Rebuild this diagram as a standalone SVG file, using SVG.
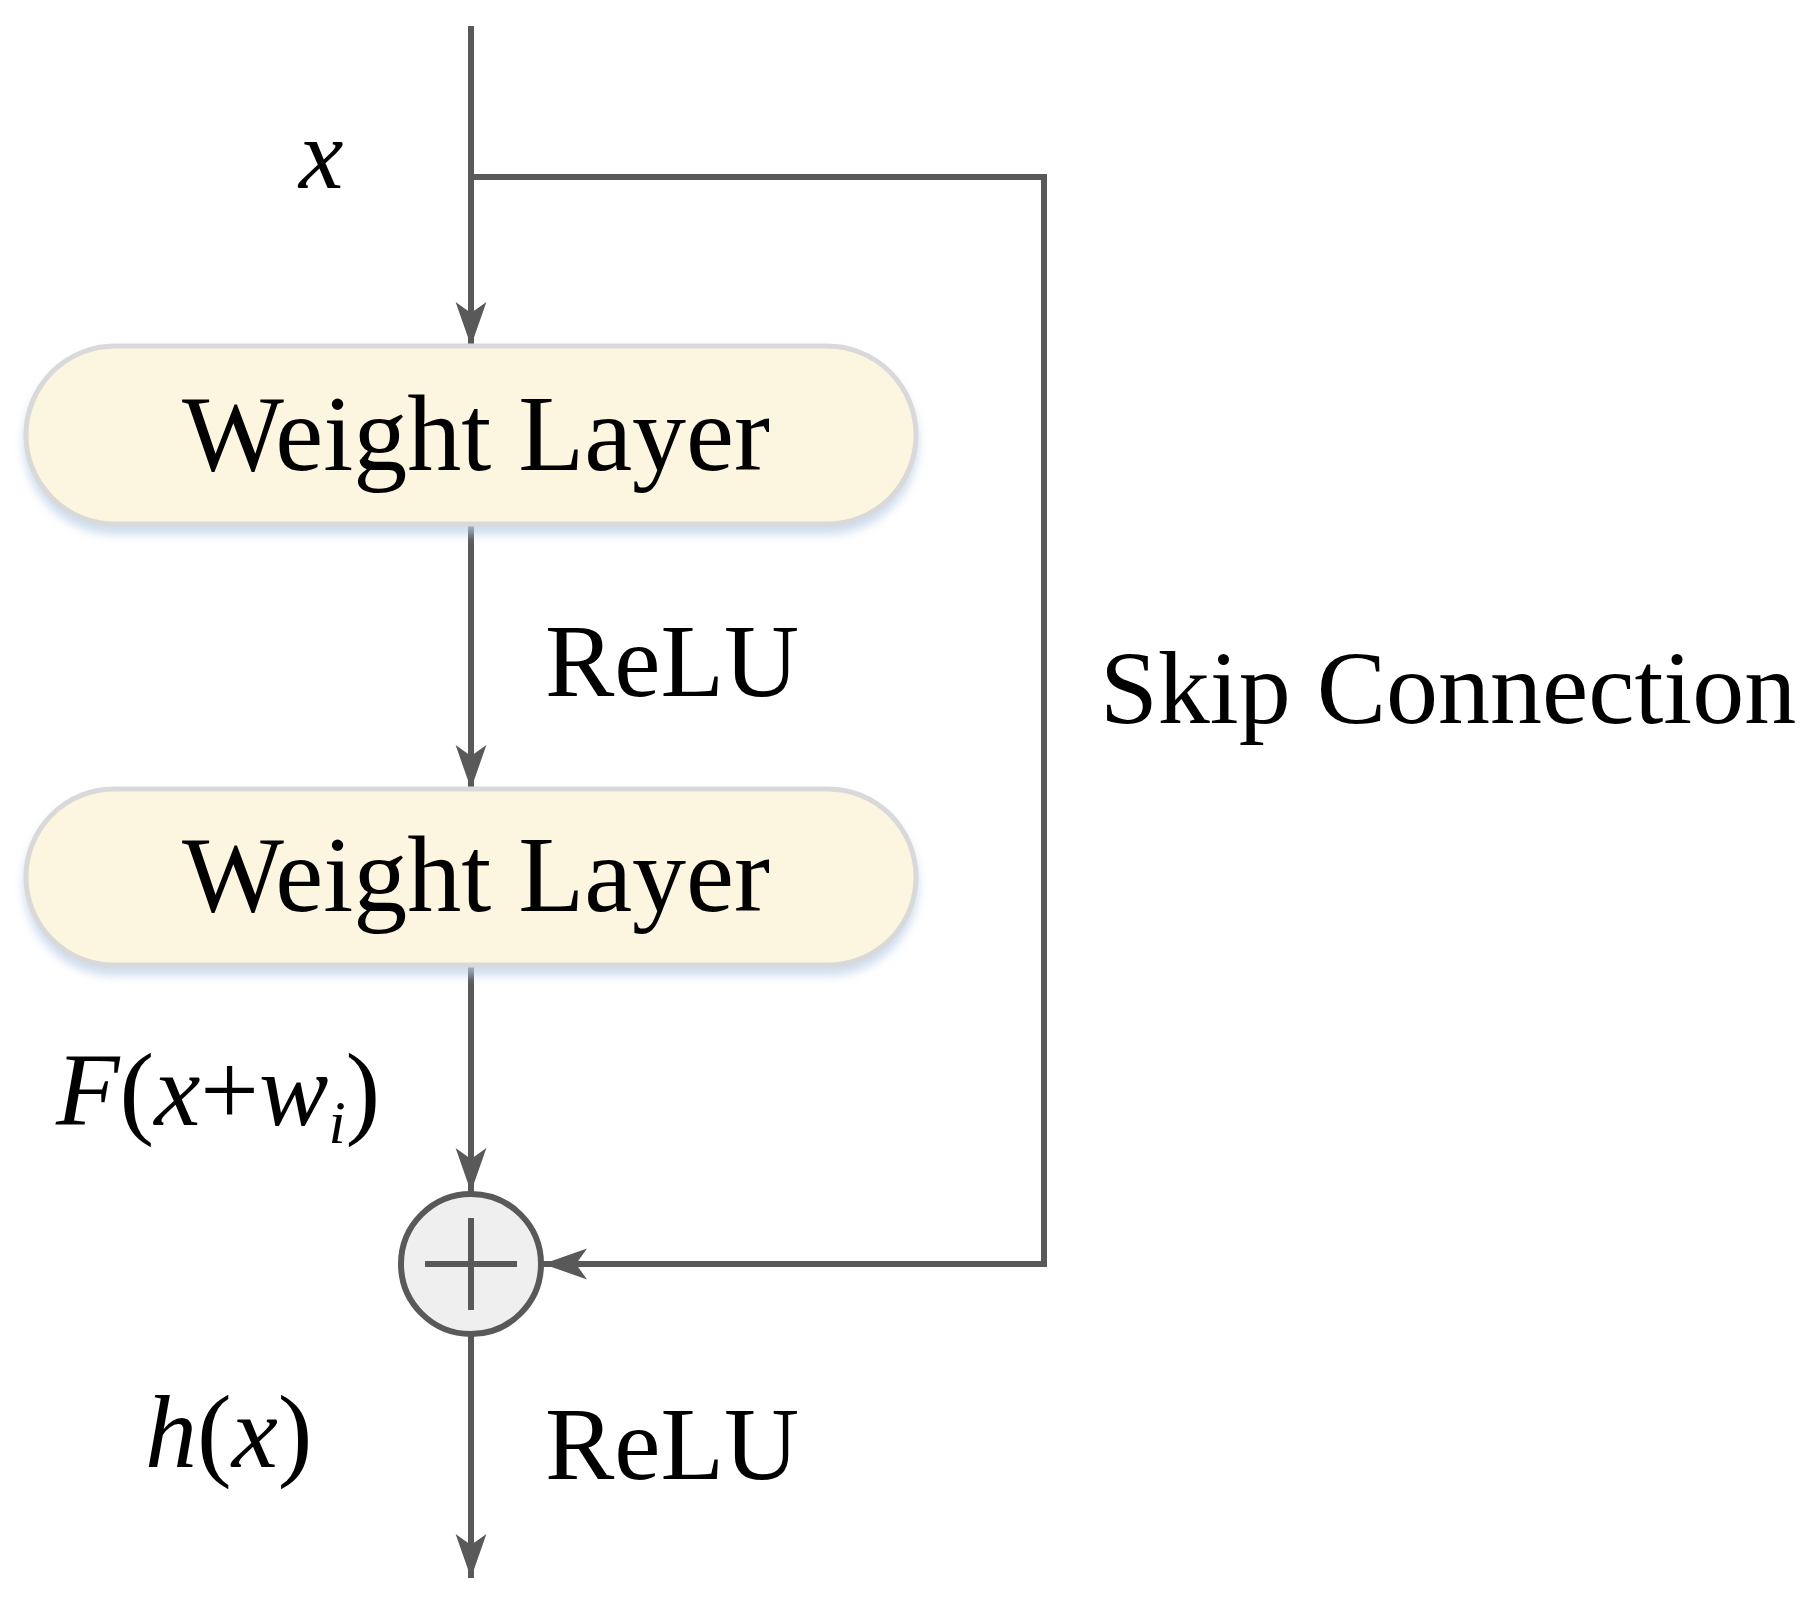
<svg xmlns="http://www.w3.org/2000/svg" width="1819" height="1600" viewBox="0 0 1819 1600">
<style>
.ln{stroke:#595959;stroke-width:6;fill:none}
.box{fill:#fcf6e1;stroke:#d9d9d9;stroke-width:5}
.t{font-family:"Liberation Serif",serif;fill:#000}
.i{font-style:italic}
</style>
<defs>
<marker id="a" markerWidth="10" markerHeight="10" refX="9" refY="5" orient="auto" markerUnits="userSpaceOnUse" viewBox="0 0 10 10"><path d="M0,0 L10,5 L0,10 z" fill="#595959"/></marker>
<marker id="ah" viewBox="0 0 10 10" refX="10" refY="5" markerWidth="44" markerHeight="44" markerUnits="userSpaceOnUse" orient="auto"><path d="M0,1.5 L10,5 L0,8.5 L2.5,5 z" fill="#595959"/></marker>
<filter id="sh" x="-10%" y="-20%" width="120%" height="150%"><feDropShadow dx="0" dy="8" stdDeviation="5" flood-color="#b9cde6" flood-opacity="0.7"/></filter>
</defs>
<g id="connectors">
<line class="ln" x1="471" y1="26" x2="471" y2="346" marker-end="url(#ah)"/>
<polyline class="ln" points="471,177 1044,177 1044,1264 543,1264" marker-end="url(#ah)"/>
<line class="ln" x1="471" y1="524" x2="471" y2="789" marker-end="url(#ah)"/>
<line class="ln" x1="471" y1="965" x2="471" y2="1192" marker-end="url(#ah)"/>
<line class="ln" x1="471" y1="1336" x2="471" y2="1578" marker-end="url(#ah)"/>
</g>
<g id="box1"><rect class="box" filter="url(#sh)" x="26" y="346" width="890" height="178" rx="89"/><text class="t" x="476" y="470" font-size="108" text-anchor="middle">Weight Layer</text></g>
<g id="box2"><rect class="box" filter="url(#sh)" x="26" y="789" width="890" height="176" rx="88"/><text class="t" x="476" y="911" font-size="108" text-anchor="middle">Weight Layer</text></g>
<g id="sum"><circle cx="471" cy="1264" r="70" fill="#efefef" stroke="#595959" stroke-width="6"/><line class="ln" x1="425" y1="1264" x2="517" y2="1264"/><line class="ln" x1="471" y1="1218" x2="471" y2="1310"/></g>
<g id="labels">
<text class="t i" x="299" y="188" font-size="100">x</text>
<text class="t" x="545" y="696" font-size="104">ReLU</text>
<text class="t" x="1100" y="723" font-size="104">Skip Connection</text>
<text class="t" x="56" y="1125" font-size="104"><tspan class="i">F</tspan>(<tspan class="i">x</tspan>+<tspan class="i">w</tspan><tspan class="i" font-size="62" dy="18">i</tspan><tspan dy="-18">)</tspan></text>
<text class="t" x="145" y="1467" font-size="104"><tspan class="i">h</tspan>(<tspan class="i">x</tspan>)</text>
<text class="t" x="545" y="1479" font-size="104">ReLU</text>
</g>
</svg>
